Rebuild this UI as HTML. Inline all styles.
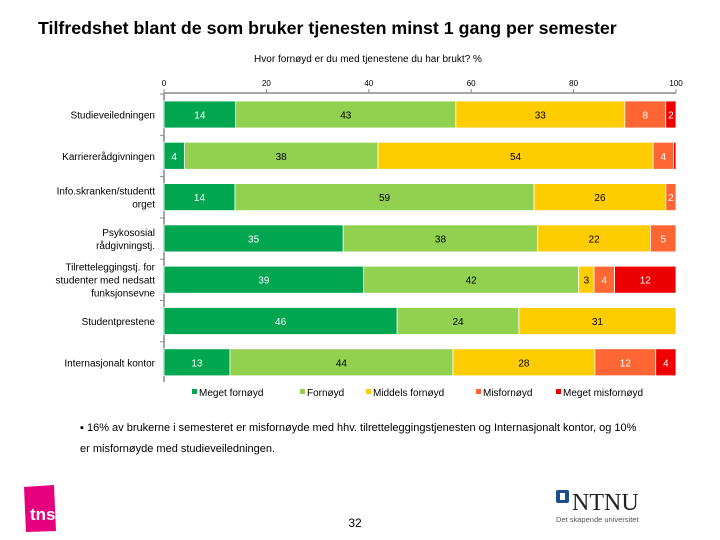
<!DOCTYPE html>
<html><head><meta charset="utf-8"><style>
body{margin:0;width:720px;height:540px;background:#fff;overflow:hidden;font-family:"Liberation Sans",sans-serif}
svg{position:absolute;left:0;top:0}
</style></head><body>
<svg width="720" height="540">
<text x="38" y="34" font-size="17.8" font-weight="bold" fill="#000">Tilfredshet blant de som bruker tjenesten minst 1 gang per semester</text>
<text x="368" y="62" font-size="10" text-anchor="middle" fill="#000">Hvor fornøyd er du med tjenestene du har brukt? %</text>
<g id="axes"></g>
<g id="bars"></g>
<g id="legend"></g>
<text x="80" y="431" font-size="11">▪ 16% av brukerne i semesteret er misfornøyde med hhv. tilretteleggingstjenesten og Internasjonalt kontor, og 10%</text>
<text x="80" y="452" font-size="11">er misfornøyde med studieveiledningen.</text>
<path d="M24 487 L54 485 L56 531 L26 532 Z" fill="#e6007e"/>
<text x="30" y="520" font-size="17" font-weight="bold" fill="#fff">tns</text>
<text x="355" y="527" font-size="12" text-anchor="middle">32</text>
<rect x="556" y="490" width="13" height="13" rx="2" fill="#1a4e8c"/>
<rect x="560" y="493" width="5" height="7" fill="#fff"/>
<text x="572" y="510" font-size="24" font-family="Liberation Serif,serif" fill="#222">NTNU</text>
<text x="556" y="522" font-size="7.5" fill="#555">Det skapende universitet</text>
</svg>
<script>
const categories=[["Studieveiledningen"],["Karriererådgivningen"],["Info.skranken/studentt","orget"],["Psykososial","rådgivningstj."],["Tilretteleggingstj. for","studenter med nedsatt","funksjonsevne"],["Studentprestene"],["Internasjonalt kontor"]];
const seriesNames=["Meget fornøyd","Fornøyd","Middels fornøyd","Misfornøyd","Meget misfornøyd"];
const megetFornoyd=[14,4,14,35,39,46,13];
const fornoyd=[43,38,59,38,42,24,44];
const middels=[33,54,26,22,3,31,28];
const misfornoyd=[8,4,2,5,4,0,12];
const megetMisfornoyd=[2,0.5,0,0,12,0,4];
const xTicks=[0,20,40,60,80,100];
const series=[megetFornoyd,fornoyd,middels,misfornoyd,megetMisfornoyd];
const colors=["#00a650","#92d050","#ffcc00","#ff6633","#ee0000"];
const textCol=["#fff","#000","#000","#fff","#fff"];
const NS="http://www.w3.org/2000/svg";
const x0=164,x1=676,axisY=93,rowTop=101,rowStep=41.3,barH=27;
const xs=v=>x0+(x1-x0)*v/100;
function el(t,a,p){const e=document.createElementNS(NS,t);for(const k in a)e.setAttribute(k,a[k]);p.appendChild(e);return e;}
const ax=document.getElementById('axes'),bars=document.getElementById('bars'),lg=document.getElementById('legend');
let l=el('line',{x1:x0,x2:x1,y1:axisY,y2:axisY,stroke:'#888','stroke-width':1.5},ax);


l=el('line',{x1:x0,x2:x0,y1:axisY,y2:rowTop+rowStep*categories.length-8,stroke:'#888','stroke-width':1.5},ax);


xTicks.forEach(t=>{
 const tk=el('line',{x1:xs(t),x2:xs(t),y1:axisY-4,y2:axisY,stroke:'#888'},ax);
 
 
 const tx=el('text',{x:xs(t),y:86,'font-size':8,'text-anchor':'middle'},ax);tx.textContent=t;
 
 
});
categories.forEach((c,i)=>{
 const y=rowTop+i*rowStep,cy=y+barH/2;
 const tk=el('line',{x1:x0-4,x2:x0,y1:y-7,y2:y-7,stroke:'#888'},ax);
 
 
 const tx=el('text',{'font-size':10,'text-anchor':'end'},ax);
 
 
 c.forEach((line,j)=>{const s=el('tspan',{x:155,y:cy+4+(j-(c.length-1)/2)*13},tx);s.textContent=line;});
 let sum=0;series.forEach(s=>sum+=s[i]);
 let acc=0;
 series.forEach((s,k)=>{
  const v=s[i];if(!v)return;
  const a=xs(acc/sum*100),b=xs((acc+v)/sum*100);acc+=v;
  const r=el('rect',{x:a,y:y,width:b-a,height:barH,fill:colors[k],stroke:'#fff','stroke-width':0.8},bars);
  
  
  if(v>=1){const t=el('text',{x:(a+b)/2,y:cy+4,'font-size':10,'text-anchor':'middle',fill:textCol[k]},bars);t.textContent=v;
  
  }
 });
});
const lx=[192,300,366,476,556];
seriesNames.forEach((n,k)=>{
 const r=el('rect',{x:lx[k],y:389,width:5,height:5,fill:colors[k]},lg);
 
 
 const t=el('text',{x:lx[k]+7,y:396,'font-size':10},lg);t.textContent=n;
 
 
});
</script>
</body></html>
